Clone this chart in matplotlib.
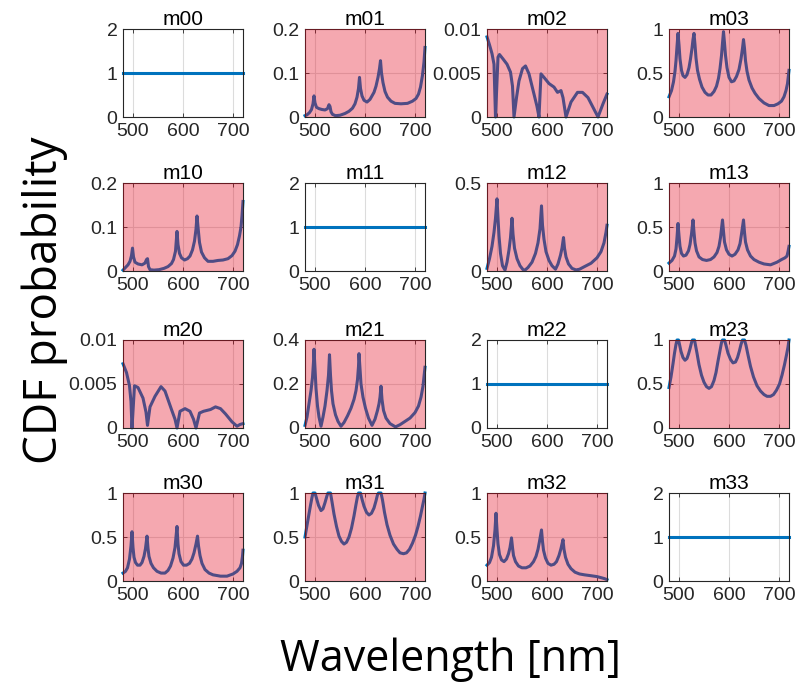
import matplotlib
matplotlib.use("Agg")
import matplotlib.pyplot as plt
from matplotlib.patches import Rectangle
from matplotlib.ticker import FuncFormatter

# ---------------- data ----------------
wl_flat = [480, 720]
cdf_flat = [1.0, 1.0]

wl_m01 = [480, 484, 489, 493, 496, 498, 500, 503, 508, 514, 520, 525, 528, 530, 532, 535, 541, 550, 560, 568, 575, 580, 584, 587, 589, 591, 594, 598, 604, 610, 614, 618, 622, 626, 629, 631, 633, 636, 640, 645, 652, 660, 672, 685, 695, 702, 707, 711, 715, 718, 720]
cdf_m01 = [0.003, 0.005, 0.010, 0.017, 0.030, 0.048, 0.032, 0.022, 0.019, 0.017, 0.016, 0.019, 0.028, 0.024, 0.012, 0.006, 0.003, 0.004, 0.008, 0.013, 0.020, 0.030, 0.045, 0.065, 0.090, 0.065, 0.048, 0.038, 0.034, 0.040, 0.048, 0.056, 0.070, 0.090, 0.110, 0.128, 0.100, 0.078, 0.058, 0.045, 0.036, 0.031, 0.030, 0.031, 0.036, 0.042, 0.052, 0.068, 0.095, 0.125, 0.158]

wl_m02 = [480, 485, 490, 494, 497, 502, 505, 512, 520, 527, 531, 534, 539, 544, 551, 557, 564, 574, 580, 584, 588, 594, 604, 614, 621, 628, 632, 638, 648, 661, 671, 682, 692, 702, 712, 720]
cdf_m02 = [0.0091, 0.0082, 0.0072, 0.0060, 0.0, 0.0068, 0.0071, 0.0066, 0.0060, 0.0051, 0.0035, 0.0, 0.0022, 0.0041, 0.0055, 0.0058, 0.0049, 0.0026, 0.0012, 0.0, 0.0049, 0.0045, 0.0038, 0.0034, 0.0028, 0.0030, 0.0022, 0.0, 0.0017, 0.0028, 0.0028, 0.0022, 0.0011, 0.0, 0.0015, 0.0026]

wl_m03 = [480, 485, 489, 492, 494, 496, 498, 500, 502, 505, 508, 512, 516, 520, 523, 526, 528, 530, 532, 534, 537, 541, 546, 552, 558, 564, 570, 575, 579, 582, 585, 587, 589, 591, 593, 596, 600, 605, 610, 615, 620, 624, 627, 629, 631, 633, 636, 640, 646, 652, 660, 670, 680, 690, 698, 705, 710, 714, 717, 720]
cdf_m03 = [0.23, 0.30, 0.40, 0.52, 0.64, 0.80, 0.95, 0.82, 0.66, 0.53, 0.47, 0.45, 0.48, 0.56, 0.66, 0.78, 0.88, 0.95, 0.82, 0.67, 0.53, 0.43, 0.34, 0.28, 0.25, 0.25, 0.29, 0.35, 0.44, 0.55, 0.70, 0.84, 0.97, 0.84, 0.70, 0.56, 0.45, 0.40, 0.41, 0.46, 0.54, 0.66, 0.78, 0.88, 0.78, 0.64, 0.52, 0.42, 0.33, 0.27, 0.21, 0.16, 0.13, 0.13, 0.15, 0.18, 0.23, 0.30, 0.38, 0.53]

wl_m10 = [480, 485, 490, 494, 497, 499, 501, 504, 510, 518, 524, 527, 529, 531, 534, 542, 552, 562, 570, 577, 581, 585, 588, 590, 593, 597, 603, 609, 614, 619, 623, 626, 628, 630, 633, 637, 643, 650, 660, 670, 680, 690, 698, 704, 709, 713, 716, 718, 720]
cdf_m10 = [0.002, 0.008, 0.014, 0.022, 0.035, 0.052, 0.032, 0.020, 0.016, 0.014, 0.018, 0.026, 0.028, 0.010, 0.003, 0.002, 0.003, 0.006, 0.010, 0.017, 0.026, 0.045, 0.090, 0.060, 0.040, 0.030, 0.025, 0.028, 0.034, 0.048, 0.068, 0.095, 0.125, 0.100, 0.065, 0.043, 0.030, 0.022, 0.022, 0.024, 0.025, 0.028, 0.035, 0.045, 0.060, 0.080, 0.100, 0.125, 0.158]

wl_m12 = [480, 485, 490, 494, 497, 500, 502, 504, 507, 511, 516, 520, 524, 527, 530, 532, 535, 540, 546, 552, 556, 562, 570, 577, 582, 586, 589, 591, 594, 598, 604, 610, 617, 622, 627, 630, 633, 635, 638, 643, 650, 658, 665, 675, 688, 700, 708, 714, 718, 720]
cdf_m12 = [0.015, 0.07, 0.14, 0.22, 0.30, 0.41, 0.30, 0.20, 0.10, 0.03, 0.005, 0.05, 0.12, 0.19, 0.30, 0.21, 0.13, 0.07, 0.03, 0.008, 0.005, 0.02, 0.05, 0.10, 0.16, 0.24, 0.37, 0.26, 0.18, 0.11, 0.06, 0.03, 0.01, 0.04, 0.09, 0.13, 0.19, 0.13, 0.08, 0.04, 0.015, 0.006, 0.01, 0.025, 0.044, 0.075, 0.11, 0.16, 0.22, 0.26]

wl_m13 = [480, 486, 491, 494, 496, 498, 500, 502, 505, 509, 514, 519, 522, 525, 528, 530, 532, 535, 540, 547, 555, 563, 570, 576, 580, 583, 587, 589, 591, 595, 600, 606, 612, 618, 622, 625, 629, 631, 633, 637, 643, 650, 660, 670, 683, 696, 705, 712, 716, 718, 720]
cdf_m13 = [0.09, 0.12, 0.17, 0.25, 0.38, 0.54, 0.40, 0.28, 0.20, 0.17, 0.18, 0.23, 0.30, 0.42, 0.58, 0.44, 0.32, 0.23, 0.16, 0.13, 0.12, 0.13, 0.16, 0.21, 0.28, 0.38, 0.58, 0.45, 0.33, 0.24, 0.19, 0.17, 0.19, 0.24, 0.31, 0.42, 0.58, 0.44, 0.33, 0.24, 0.17, 0.13, 0.10, 0.08, 0.07, 0.10, 0.13, 0.15, 0.17, 0.22, 0.28]

wl_m20 = [480, 487, 493, 496, 498, 503, 510, 520, 526, 529, 534, 544, 556, 564, 577, 584, 588, 594, 604, 614, 621, 626, 633, 641, 655, 665, 675, 685, 698, 708, 714, 720]
cdf_m20 = [0.0073, 0.0063, 0.0048, 0.0030, 0.0, 0.0048, 0.0046, 0.0034, 0.0018, 0.0003, 0.0024, 0.0036, 0.0047, 0.0042, 0.0021, 0.0010, 0.0, 0.0019, 0.0022, 0.0019, 0.0010, 0.0, 0.0017, 0.0019, 0.0021, 0.0024, 0.0022, 0.0016, 0.0007, 0.0002, 0.0004, 0.0005]

wl_m21 = [480, 484, 488, 492, 495, 497, 498, 500, 502, 505, 508, 512, 516, 520, 524, 527, 529, 531, 533, 536, 541, 546, 552, 558, 565, 572, 578, 582, 585, 587, 588, 590, 592, 596, 601, 607, 614, 620, 625, 628, 630, 632, 634, 637, 642, 650, 661, 670, 680, 690, 700, 707, 712, 716, 720]
cdf_m21 = [0.012, 0.05, 0.11, 0.17, 0.23, 0.30, 0.358, 0.27, 0.18, 0.10, 0.05, 0.008, 0.05, 0.10, 0.17, 0.24, 0.333, 0.24, 0.17, 0.11, 0.06, 0.03, 0.008, 0.025, 0.055, 0.09, 0.13, 0.17, 0.22, 0.28, 0.338, 0.27, 0.20, 0.14, 0.09, 0.045, 0.012, 0.04, 0.08, 0.11, 0.14, 0.19, 0.13, 0.08, 0.045, 0.02, 0.005, 0.015, 0.03, 0.045, 0.07, 0.10, 0.14, 0.19, 0.276]

wl_m23 = [480, 484, 488, 491, 494, 496, 499, 501, 504, 508, 512, 516, 519, 522, 525, 527, 531, 533, 536, 540, 545, 550, 555, 560, 565, 570, 574, 578, 582, 585, 587, 591, 594, 598, 603, 608, 613, 617, 621, 624, 627, 631, 634, 638, 643, 649, 656, 663, 670, 676, 683, 689, 695, 701, 706, 711, 715, 718, 720]
cdf_m23 = [0.46, 0.58, 0.73, 0.85, 0.95, 1.0, 1.0, 0.95, 0.87, 0.80, 0.77, 0.79, 0.84, 0.90, 0.97, 1.0, 1.0, 0.94, 0.85, 0.72, 0.60, 0.52, 0.47, 0.45, 0.47, 0.54, 0.63, 0.76, 0.88, 0.97, 1.0, 1.0, 0.94, 0.85, 0.78, 0.74, 0.75, 0.80, 0.88, 0.95, 1.0, 1.0, 0.94, 0.83, 0.70, 0.58, 0.48, 0.42, 0.38, 0.36, 0.36, 0.38, 0.43, 0.50, 0.60, 0.72, 0.83, 0.92, 1.0]

wl_m30 = [480, 485, 489, 493, 496, 498, 500, 502, 505, 509, 514, 518, 522, 525, 528, 530, 532, 536, 541, 548, 556, 564, 570, 575, 580, 584, 588, 590, 592, 596, 601, 607, 613, 618, 622, 626, 629, 631, 634, 638, 644, 652, 660, 675, 688, 700, 708, 714, 717, 719, 720]
cdf_m30 = [0.09, 0.11, 0.15, 0.25, 0.40, 0.56, 0.38, 0.27, 0.21, 0.18, 0.18, 0.21, 0.28, 0.37, 0.51, 0.37, 0.28, 0.20, 0.15, 0.11, 0.09, 0.09, 0.12, 0.17, 0.26, 0.38, 0.62, 0.42, 0.31, 0.22, 0.18, 0.18, 0.20, 0.25, 0.32, 0.42, 0.51, 0.40, 0.29, 0.20, 0.13, 0.09, 0.07, 0.055, 0.055, 0.08, 0.11, 0.15, 0.20, 0.28, 0.35]

wl_m31 = [480, 483, 487, 491, 494, 496, 500, 503, 507, 512, 516, 520, 524, 526, 531, 534, 538, 543, 548, 553, 558, 563, 568, 573, 578, 582, 585, 587, 591, 594, 598, 603, 608, 613, 618, 622, 625, 627, 632, 635, 639, 644, 650, 657, 664, 670, 677, 683, 689, 695, 701, 706, 711, 715, 718, 720]
cdf_m31 = [0.50, 0.60, 0.73, 0.86, 0.95, 1.0, 1.0, 0.94, 0.86, 0.80, 0.82, 0.89, 0.97, 1.0, 1.0, 0.90, 0.76, 0.62, 0.51, 0.45, 0.42, 0.44, 0.50, 0.60, 0.74, 0.87, 0.96, 1.0, 1.0, 0.93, 0.85, 0.78, 0.75, 0.77, 0.83, 0.91, 0.98, 1.0, 1.0, 0.92, 0.78, 0.64, 0.52, 0.42, 0.36, 0.32, 0.31, 0.32, 0.36, 0.43, 0.52, 0.62, 0.74, 0.85, 0.93, 1.0]

wl_m32 = [480, 485, 489, 493, 496, 498, 500, 502, 505, 509, 514, 519, 523, 526, 529, 531, 533, 537, 543, 550, 558, 566, 573, 578, 582, 585, 589, 591, 593, 597, 602, 608, 614, 619, 624, 628, 632, 634, 637, 642, 648, 656, 665, 675, 688, 700, 710, 716, 720]
cdf_m32 = [0.18, 0.21, 0.27, 0.40, 0.58, 0.77, 0.58, 0.42, 0.30, 0.24, 0.22, 0.25, 0.31, 0.38, 0.49, 0.38, 0.29, 0.22, 0.17, 0.15, 0.15, 0.17, 0.22, 0.28, 0.36, 0.45, 0.58, 0.45, 0.35, 0.26, 0.20, 0.18, 0.19, 0.22, 0.29, 0.37, 0.47, 0.36, 0.27, 0.19, 0.14, 0.10, 0.08, 0.07, 0.06, 0.05, 0.035, 0.025, 0.015]

titles = ["m00", "m01", "m02", "m03",
          "m10", "m11", "m12", "m13",
          "m20", "m21", "m22", "m23",
          "m30", "m31", "m32", "m33"]
wl_series = [wl_flat, wl_m01, wl_m02, wl_m03,
             wl_m10, wl_flat, wl_m12, wl_m13,
             wl_m20, wl_m21, wl_flat, wl_m23,
             wl_m30, wl_m31, wl_m32, wl_flat]
cdf_series = [cdf_flat, cdf_m01, cdf_m02, cdf_m03,
              cdf_m10, cdf_flat, cdf_m12, cdf_m13,
              cdf_m20, cdf_m21, cdf_flat, cdf_m23,
              cdf_m30, cdf_m31, cdf_m32, cdf_flat]
y_limits = [2, 0.2, 0.01, 1,
            0.2, 2, 0.5, 1,
            0.01, 0.4, 2, 1,
            1, 1, 1, 2]
y_ticks = [[0, 1, 2], [0, 0.1, 0.2], [0, 0.005, 0.01], [0, 0.5, 1],
           [0, 0.1, 0.2], [0, 1, 2], [0, 0.5], [0, 0.5, 1],
           [0, 0.005, 0.01], [0, 0.2, 0.4], [0, 1, 2], [0, 0.5, 1],
           [0, 0.5, 1], [0, 0.5, 1], [0, 0.5, 1], [0, 1, 2]]
x_ticks = [500, 600, 700]

# ---------------- drawing ----------------
W, H = 795, 691
fig = plt.figure(figsize=(W / 100, H / 100), dpi=100)

col_left = [123, 305, 487, 669]
row_top = [29, 183, 340, 493]
ax_w, ax_h = 120, 88

tick_font = "Liberation Sans"
fmt = FuncFormatter(lambda v, p: "%g" % v)

for i in range(16):
    r, c = divmod(i, 4)
    left = col_left[c] / W
    bottom = 1 - (row_top[r] + ax_h) / H
    ax = fig.add_axes([left, bottom, ax_w / W, ax_h / H])
    ax.plot(wl_series[i], cdf_series[i], color="#0072BD", lw=2.2, zorder=2,
            clip_on=False, solid_joinstyle="round")
    ax.set_xlim(480, 720)
    ax.set_ylim(0, y_limits[i])
    ax.set_xticks(x_ticks)
    ax.set_yticks(y_ticks[i])
    ax.yaxis.set_major_formatter(fmt)
    ax.grid(True, color="#dcdcdc", lw=0.8)
    ax.set_axisbelow(True)
    ax.tick_params(direction="in", length=3, width=0.6, colors="#262626",
                   labelsize=14, top=True, right=True, pad=4)
    for lab in ax.get_xticklabels() + ax.get_yticklabels():
        lab.set_fontfamily(tick_font)
    for s in ax.spines.values():
        s.set_color("#262626")
        s.set_linewidth(0.8)
    ax.set_title(titles[i], fontsize=15, family=tick_font, color="black", pad=3)
    if titles[i][1] != titles[i][2]:
        ax.add_patch(Rectangle((0, 0), 1, 1, transform=ax.transAxes,
                               facecolor=(229 / 255, 6 / 255, 29 / 255),
                               alpha=0.35, edgecolor="none", zorder=5,
                               clip_on=False))

fig.text(45 / W, 1 - 300 / H, "CDF probability", rotation=90, ha="center",
         va="center", fontsize=33, family="Open Sans", color="black")
fig.text(450 / W, 1 - 660 / H, "Wavelength [nm]", ha="center", va="center",
         fontsize=31, family="Open Sans", color="black")

fig.savefig("out.png", dpi=100)
